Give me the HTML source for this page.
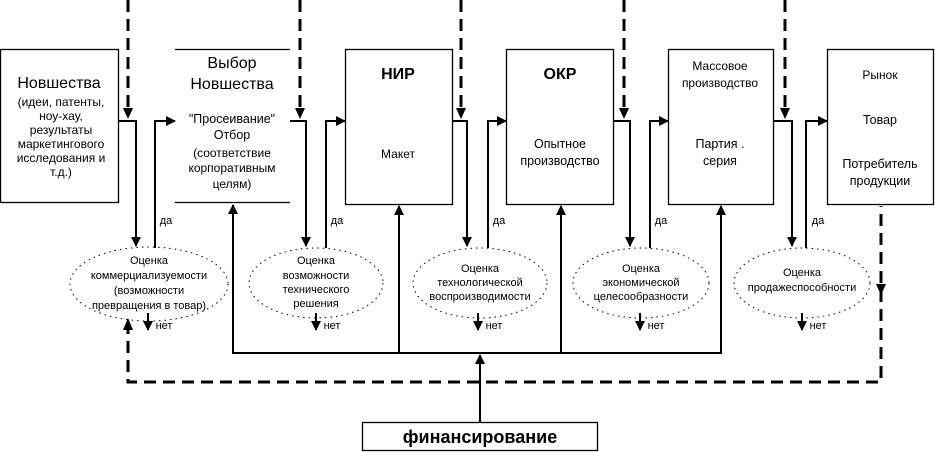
<!DOCTYPE html>
<html><head><meta charset="utf-8"><style>
body{margin:0;background:#fff}
svg{display:block}
text{font-family:"Liberation Sans","DejaVu Sans",sans-serif;fill:#000;text-anchor:middle}
.s{font-size:12px}.m{font-size:12.5px}.b{font-size:16px}.bb{font-size:16px;font-weight:bold}
</style></head><body>
<svg width="935" height="452" viewBox="0 0 935 452" xmlns="http://www.w3.org/2000/svg">
<defs>
<marker id="a" markerWidth="10" markerHeight="10" refX="9" refY="5" orient="auto" markerUnits="userSpaceOnUse"><path d="M0,0 L10,5 L0,10z" fill="#000"/></marker>
</defs>
<g fill="none" stroke="#000" stroke-width="1.3">
<rect x="0.5" y="49.5" width="118" height="153"/>
<line x1="175" y1="49.5" x2="290" y2="49.5"/><line x1="175" y1="202.5" x2="290" y2="202.5"/>
<rect x="345.5" y="49.5" width="107" height="155"/>
<rect x="506.5" y="49.5" width="107" height="155"/>
<rect x="668.5" y="49.5" width="105" height="155"/>
<rect x="827.5" y="49.5" width="106" height="155"/>
<rect x="362.5" y="422.5" width="235" height="28"/>
</g>
<!-- dashed top lines -->
<g stroke="#000" stroke-width="3" stroke-dasharray="12,7" fill="none">
<line x1="128" y1="0" x2="128" y2="110"/>
<line x1="300" y1="0" x2="300" y2="110"/>
<line x1="461" y1="0" x2="461" y2="110"/>
<line x1="624" y1="0" x2="624" y2="110"/>
<line x1="785" y1="0" x2="785" y2="110"/>
<polyline points="128,322 128,382 881,382 881,206"/>
</g>
<g fill="#000">
<path d="M123,108 L133,108 L128,119z"/><path d="M295,108 L305,108 L300,119z"/><path d="M456,108 L466,108 L461,119z"/><path d="M619,108 L629,108 L624,119z"/><path d="M780,108 L790,108 L785,119z"/>
<path d="M123,330 L133,330 L128,318z"/>
<path d="M876,284 L886,284 L881,295z"/>
</g>
<!-- flows -->
<g stroke="#000" stroke-width="2" fill="none">
<polyline points="118,121 136,121 136,246" marker-end="url(#a)"/>
<polyline points="155,248 155,121 175,121" marker-end="url(#a)"/>
<polyline points="290,121 306,121 306,246" marker-end="url(#a)"/>
<polyline points="326,248 326,121 345,121" marker-end="url(#a)"/>
<polyline points="452,121 467,121 467,246" marker-end="url(#a)"/>
<polyline points="488,248 488,121 506,121" marker-end="url(#a)"/>
<polyline points="613,121 630,121 630,246" marker-end="url(#a)"/>
<polyline points="650,248 650,121 668,121" marker-end="url(#a)"/>
<polyline points="773,121 792,121 792,246" marker-end="url(#a)"/>
<polyline points="806,248 806,121 827,121" marker-end="url(#a)"/>
<line x1="148" y1="313" x2="148" y2="330" marker-end="url(#a)"/>
<line x1="316" y1="313" x2="316" y2="330" marker-end="url(#a)"/>
<line x1="478" y1="313" x2="478" y2="330" marker-end="url(#a)"/>
<line x1="640" y1="313" x2="640" y2="330" marker-end="url(#a)"/>
<line x1="802" y1="313" x2="802" y2="330" marker-end="url(#a)"/>
<line x1="232" y1="353" x2="722" y2="353"/>
<line x1="233" y1="353" x2="233" y2="205" marker-end="url(#a)"/>
<line x1="399" y1="353" x2="399" y2="206" marker-end="url(#a)"/>
<line x1="561" y1="353" x2="561" y2="206" marker-end="url(#a)"/>
<line x1="721" y1="353" x2="721" y2="206" marker-end="url(#a)"/>
<line x1="480" y1="422" x2="480" y2="355" marker-end="url(#a)"/>
</g>
<!-- ellipses -->
<g fill="none" stroke="#000" stroke-width="1" stroke-dasharray="1.5,4">
<ellipse cx="149" cy="284" rx="79" ry="37"/>
<ellipse cx="316" cy="283" rx="67" ry="35"/>
<ellipse cx="480" cy="283" rx="67" ry="35"/>
<ellipse cx="641" cy="283" rx="68" ry="35"/>
<ellipse cx="802" cy="283" rx="68" ry="35"/>
</g>
<!-- texts -->
<text x="59" y="88" class="b">Новшества</text>
<text x="61" y="106" class="s">(идеи, патенты,</text>
<text x="61" y="120" class="s">ноу-хау,</text>
<text x="61" y="134" class="s">результаты</text>
<text x="61" y="148" class="s">маркетингового</text>
<text x="61" y="162" class="s">исследования и</text>
<text x="61" y="176" class="s">т.д.)</text>
<text x="232" y="68" class="b">Выбор</text>
<text x="232" y="89" class="b">Новшества</text>
<text x="232" y="123" class="m">"Просеивание"</text>
<text x="232" y="139" class="m">Отбор</text>
<text x="232" y="157" class="s">(соответствие</text>
<text x="232" y="172" class="s">корпоративным</text>
<text x="232" y="188" class="s">целям)</text>
<text x="398" y="79" class="bb">НИР</text>
<text x="398" y="158" class="s">Макет</text>
<text x="560" y="79" class="bb">ОКР</text>
<text x="560" y="148" class="m">Опытное</text>
<text x="560" y="165" class="m">производство</text>
<text x="720" y="70" class="s">Массовое</text>
<text x="720" y="87" class="s">производство</text>
<text x="720" y="148" class="m">Партия .</text>
<text x="720" y="165" class="m">серия</text>
<text x="880" y="79" class="s">Рынок</text>
<text x="880" y="124" class="m">Товар</text>
<text x="880" y="168" class="m">Потребитель</text>
<text x="880" y="185" class="m">продукции</text>
<g class="s" style="font-size:11px">
<text x="149" y="264">Оценка</text><text x="149" y="279">коммерциализуемости</text><text x="149" y="294">(возможности</text><text x="149" y="309">превращения в товар)</text>
<text x="316" y="264">Оценка</text><text x="316" y="279">возможности</text><text x="316" y="293">технического</text><text x="316" y="307">решения</text>
<text x="480" y="272">Оценка</text><text x="480" y="286">технологической</text><text x="480" y="300">воспроизводимости</text>
<text x="641" y="272">Оценка</text><text x="641" y="286">экономической</text><text x="641" y="300">целесообразности</text>
<text x="802" y="276">Оценка</text><text x="802" y="291">продажеспособности</text>
</g>
<g style="font-size:11px">
<text x="166" y="224">да</text><text x="337" y="224">да</text><text x="499" y="224">да</text><text x="661" y="224">да</text><text x="818" y="224">да</text>
<text x="164" y="329">нет</text><text x="332" y="329">нет</text><text x="494" y="329">нет</text><text x="656" y="329">нет</text><text x="818" y="329">нет</text>
</g>
<text x="480" y="443" style="font-size:18px;font-weight:bold">финансирование</text>
</svg>
</body></html>
